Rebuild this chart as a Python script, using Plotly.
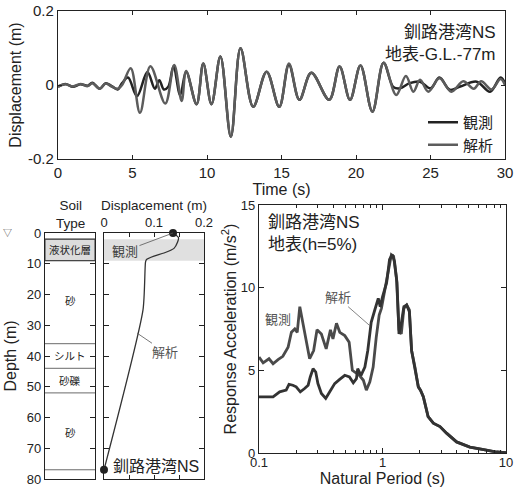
import math
import plotly.graph_objects as go

# ---------------- data ----------------
# time histories (top)
obs_t = [0, 0.5, 1, 1.5, 2, 2.3, 2.8, 3.2, 3.6, 4.0, 4.3, 4.7, 5.3, 6.0, 6.5, 6.8, 7.1, 7.4, 7.75, 8.2, 8.6,
         9.3, 9.75, 10.3, 10.9, 11.6, 12.25, 13.1, 14.0, 14.85, 15.5, 16.2, 17.0, 18.2, 18.9, 19.6, 20.3,
         21.1, 21.85, 22.5, 22.95, 23.6, 24.3, 25.0, 25.6, 26.3, 27.0, 28.1, 29.0, 29.7, 30]
obs_d = [-0.005, 0.003, -0.005, 0.002, -0.002, 0.006, -0.01, 0.005, -0.003, -0.012, 0.005, 0.02, -0.03,
         0.035, -0.01, 0.013, -0.012, -0.005, 0.05, -0.027, 0.036, -0.052, 0.058, -0.052, 0.077, -0.14,
         0.099, -0.059, 0.036, -0.059, 0.055, -0.04, 0.033, -0.04, 0.05, -0.04, 0.053, -0.072, 0.06,
         -0.005, -0.009, 0.005, 0.009, -0.009, 0.02, -0.013, -0.004, 0.009, -0.018, 0.02, 0.005]
sim_t = [0, 0.5, 1, 1.5, 2, 2.3, 2.8, 3.2, 3.6, 4.0, 4.3, 4.88, 5.5, 6.2, 7.2, 7.8, 8.3, 8.6, 9.3, 9.75,
         10.3, 10.9, 11.6, 12.25, 13.1, 14.0, 14.85, 15.5, 16.2, 17.0, 18.2, 18.9, 19.6, 20.3, 21.1, 21.85,
         22.7, 23.35, 23.85, 24.3, 24.85, 25.6, 26.4, 27.2, 27.9, 28.4, 29.1, 29.7, 30]
sim_d = [-0.004, 0.002, -0.004, 0.003, -0.003, 0.005, -0.01, 0.004, -0.004, -0.01, 0.0, 0.045, -0.075,
         0.051, -0.05, 0.054, -0.043, 0.038, -0.052, 0.058, -0.052, 0.077, -0.14, 0.099, -0.059, 0.036,
         -0.059, 0.058, -0.04, 0.033, -0.04, 0.05, -0.04, 0.053, -0.072, 0.06, -0.027, 0.024, -0.018,
         0.014, -0.018, 0.018, -0.018, 0.01, -0.01, 0.01, -0.012, 0.016, 0.0]

# soil column
layer_bounds = [2, 9, 36, 44, 52, 77]
liq_top, liq_bot = 2, 9
layer_names = ["液状化層", "砂", "シルト", "砂礫", "砂"]
layer_label_depth = [5.5, 22, 40, 48, 65]

# displacement profile
prof_disp = [0.138, 0.149, 0.147, 0.14, 0.12, 0.1, 0.085, 0.083, 0.078, 0.0]
prof_depth = [0, 1.5, 3, 5, 6.5, 7.5, 8.6, 9.5, 25, 77]
obs_pt_disp = [0.138, 0.0]
obs_pt_depth = [0, 77]

# response spectra
sp_obs_T = [0.1, 0.108, 0.1205, 0.13, 0.1426, 0.156, 0.172, 0.183, 0.195, 0.204, 0.214, 0.225, 0.239,
            0.257, 0.277, 0.295, 0.32, 0.35, 0.379, 0.397, 0.424, 0.451, 0.495, 0.537, 0.57, 0.6,
            0.65, 0.7, 0.74, 0.79, 0.84, 0.89, 0.94, 0.98, 1.04, 1.11, 1.18, 1.23, 1.3, 1.36, 1.42,
            1.49, 1.57, 1.65, 1.72, 1.83, 1.95, 2.03, 2.14, 2.34, 2.58, 2.92, 3.3, 3.98, 5.1, 6.6, 8.4, 10]
sp_obs_A = [5.8, 5.45, 5.7, 5.4, 5.65, 5.85, 6.4, 7.3, 7.5, 7.3, 8.85, 8.0, 6.8,
            5.7, 6.2, 7.45, 7.2, 6.3, 7.45, 6.9, 7.85, 7.3, 7.1, 6.7, 5.0, 4.9,
            4.7, 4.4, 3.8, 4.3, 5.2, 7.0, 8.35, 8.75, 9.85, 11.1, 12.0, 11.9, 10.5, 7.45, 7.2,
            8.75, 8.95, 8.65, 6.2, 5.2, 4.0, 3.8, 3.4, 2.2, 1.8, 1.6, 1.2, 0.67, 0.36, 0.2, 0.06, 0.02]
sp_sim_T = [0.1, 0.13, 0.147, 0.166, 0.175, 0.188, 0.2, 0.216, 0.234, 0.25, 0.26, 0.274, 0.288, 0.3,
            0.32, 0.347, 0.374, 0.41, 0.45, 0.495, 0.54, 0.58, 0.615, 0.63, 0.67, 0.72, 0.76, 0.81,
            0.866, 0.924, 0.958, 1.0, 1.08, 1.14, 1.2, 1.25, 1.31, 1.36, 1.42, 1.49, 1.57, 1.65, 1.72,
            1.83, 1.95, 2.03, 2.14, 2.34, 2.58, 2.92, 3.3, 3.98, 5.1, 6.6, 8.4, 10]
sp_sim_A = [3.4, 3.4, 3.7, 3.8, 4.15, 4.1, 4.0, 3.7, 3.9, 4.1, 4.6, 5.1, 4.9, 4.2,
            3.6, 3.3, 3.7, 4.2, 4.45, 4.7, 4.6, 4.25, 4.5, 5.1, 4.7, 5.2, 6.2, 7.9,
            8.65, 9.35, 8.85, 9.45, 10.3, 11.7, 12.0, 11.6, 10.3, 7.2, 7.85, 8.85, 8.95, 8.55, 6.2,
            5.2, 4.0, 3.8, 3.4, 2.2, 1.8, 1.6, 1.2, 0.67, 0.36, 0.2, 0.06, 0.02]

OBS_LABEL = "観測"
SIM_LABEL = "解析"

# ---------------- figure ----------------
W, H = 515, 488
FONT = "Arial, 'Liberation Sans', 'Noto Sans CJK JP', sans-serif"
C_OBS = "#222222"
C_SIM = "#5c5c5c"


def px(p):
    return p / W


def py(p):
    return 1 - p / H


def dx(a, b):
    return [px(a), px(b)]


def dy(top, bottom):
    return [py(bottom), py(top)]


fig = go.Figure()

fig.add_trace(go.Scatter(x=obs_t, y=obs_d, mode="lines", name=OBS_LABEL,
                         line=dict(color=C_OBS, width=2.5, shape="spline", smoothing=1.0),
                         xaxis="x", yaxis="y"))
fig.add_trace(go.Scatter(x=sim_t, y=sim_d, mode="lines", name=SIM_LABEL,
                         line=dict(color=C_SIM, width=2.5, shape="spline", smoothing=1.0),
                         xaxis="x", yaxis="y"))

fig.add_trace(go.Scatter(x=prof_disp, y=prof_depth, mode="lines", showlegend=False,
                         line=dict(color="#333333", width=1.3, shape="spline", smoothing=0.6),
                         xaxis="x3", yaxis="y3"))
fig.add_trace(go.Scatter(x=obs_pt_disp, y=obs_pt_depth, mode="markers", showlegend=False,
                         marker=dict(color="#222222", size=8), cliponaxis=False,
                         xaxis="x3", yaxis="y3"))

fig.add_trace(go.Scatter(x=sp_obs_T, y=sp_obs_A, mode="lines", showlegend=False,
                         line=dict(color="#4a4a4a", width=2.8),
                         xaxis="x4", yaxis="y4"))
fig.add_trace(go.Scatter(x=sp_sim_T, y=sp_sim_A, mode="lines", showlegend=False,
                         line=dict(color="#333333", width=2.8),
                         xaxis="x4", yaxis="y4"))

shapes = []
shapes.append(dict(type="rect", xref="x3 domain", yref="y3", x0=0, x1=1, y0=liq_top, y1=liq_bot,
                   fillcolor="#e0e0e0", line=dict(width=0), layer="below"))
shapes.append(dict(type="rect", xref="x2", yref="y2", x0=0, x1=1, y0=liq_top, y1=liq_bot,
                   fillcolor="#dcdcdc", line=dict(color="#333333", width=1), layer="below"))
for b in layer_bounds:
    shapes.append(dict(type="line", xref="x2", yref="y2", x0=0, x1=1, y0=b, y1=b,
                       line=dict(color="#444444", width=0.8)))

ann = []
ann.append(dict(xref="paper", yref="paper", x=px(498), y=py(21), xanchor="right", yanchor="top",
                text="釧路港湾NS<br>地表-G.L.-77m", showarrow=False, align="right",
                font=dict(family=FONT, size=17, color="#222222")))
ann.append(dict(xref="paper", yref="paper", x=px(70), y=py(214.5), xanchor="center", yanchor="middle",
                text="Soil<br>Type", showarrow=False, align="center",
                font=dict(family=FONT, size=13.5, color="#222222")))
ann.append(dict(xref="paper", yref="y2", x=px(7), y=0, xanchor="center", yanchor="middle",
                text="▽", showarrow=False, font=dict(family=FONT, size=9, color="#444444")))
for nm, d in zip(layer_names, layer_label_depth):
    ann.append(dict(xref="x2", yref="y2", x=0.5, y=d, text=nm, showarrow=False,
                    font=dict(family=FONT, size=10.5, color="#222222")))
ann.append(dict(xref="x3", yref="y3", x=obs_pt_disp[0], y=obs_pt_depth[0], ax=-48, ay=18,
                text=OBS_LABEL, showarrow=True, arrowhead=0, arrowwidth=0.8, arrowcolor="#555555",
                font=dict(family=FONT, size=13, color="#444444")))
ann.append(dict(xref="x3", yref="y3", x=0.0665, y=32.6, ax=28, ay=19,
                text=SIM_LABEL, showarrow=True, arrowhead=0, arrowwidth=0.8, arrowcolor="#555555",
                font=dict(family=FONT, size=13, color="#555555")))
ann.append(dict(xref="x3", yref="y3", x=0.103, y=75.8, text="釧路港湾NS", showarrow=False,
                font=dict(family=FONT, size=16, color="#222222")))
ann.append(dict(xref="paper", yref="paper", x=px(266), y=py(211), xanchor="left", yanchor="top",
                text="釧路港湾NS<br>地表(h=5%)", showarrow=False, align="left",
                font=dict(family=FONT, size=17, color="#222222")))
ann.append(dict(xref="x4", yref="y4", x=math.log10(0.1426), y=8.05, text=OBS_LABEL, showarrow=False,
                font=dict(family=FONT, size=13, color="#555555")))
ann.append(dict(xref="x4", yref="y4", x=math.log10(0.79), y=7.7, ax=-32, ay=-28,
                text=SIM_LABEL, showarrow=True, arrowhead=0, arrowwidth=0.8, arrowcolor="#666666",
                font=dict(family=FONT, size=13, color="#555555")))

axis_common = dict(showline=True, linecolor="#222222", linewidth=1.2, mirror="ticks",
                   ticks="inside", tickcolor="#222222", showgrid=False, zeroline=False,
                   automargin=False)

fig.update_layout(
    width=W, height=H, margin=dict(l=0, r=0, t=0, b=0),
    paper_bgcolor="white", plot_bgcolor="white",
    font=dict(family=FONT, size=14, color="#222222"),
    shapes=shapes, annotations=ann,
    legend=dict(x=px(499), xanchor="right", y=py(161), yanchor="bottom",
                bgcolor="rgba(0,0,0,0)", font=dict(family=FONT, size=15, color="#222222"),
                itemwidth=30, tracegroupgap=0),
    xaxis=dict(domain=dx(58, 505), anchor="y", range=[0, 30], tickvals=[0, 5, 10, 15, 20, 25, 30],
               ticklen=4, tickfont=dict(size=15),
               title=dict(text="Time (s)", font=dict(size=16), standoff=2), **axis_common),
    yaxis=dict(domain=dy(11, 159), anchor="x", range=[-0.2, 0.2], tickvals=[-0.2, 0, 0.2],
               ticktext=["-0.2", "0", "0.2"], ticklen=4, tickfont=dict(size=15),
               title=dict(text="Displacement (m)", font=dict(size=16), standoff=2), **axis_common),
    xaxis2=dict(domain=dx(45, 95), anchor="y2", range=[0, 1], showticklabels=False,
                showline=True, linecolor="#222222", linewidth=1.2, mirror=True, ticks="",
                showgrid=False, zeroline=False),
    yaxis2=dict(domain=dy(233, 479), anchor="x2", range=[80, 0], tickvals=list(range(0, 81, 10)),
                ticklen=5, tickfont=dict(size=13),
                title=dict(text="Depth (m)", font=dict(size=16), standoff=6), **axis_common),
    xaxis3=dict(domain=dx(104, 204), anchor="y3", side="top", range=[0, 0.2],
                tickvals=[0, 0.05, 0.1, 0.15, 0.2], ticktext=["0", "", "0.1", "", "0.2"],
                ticklen=4, tickfont=dict(size=13),
                title=dict(text="Displacement (m)", font=dict(size=13.5), standoff=0), **axis_common),
    yaxis3=dict(domain=dy(233, 479), anchor="x3", range=[80, 0], tickvals=list(range(0, 81, 10)),
                ticklen=5, showticklabels=False, **axis_common),
    xaxis4=dict(domain=dx(259, 506), anchor="y4", type="log", range=[-1, 1],
                tickvals=[0.1, 1, 10], ticktext=["0.1", "1", "10"], ticklen=5, tickfont=dict(size=13),
                ticklabelstandoff=-3,
                minor=dict(ticks="inside", ticklen=3, tickcolor="#222222",
                           tickvals=[0.2, 0.3, 0.4, 0.5, 0.6, 0.7, 0.8, 0.9, 2, 3, 4, 5, 6, 7, 8, 9]),
                title=dict(text="Natural Period (s)", font=dict(size=16), standoff=2), **axis_common),
    yaxis4=dict(domain=dy(205, 453), anchor="x4", range=[0, 15], tickvals=[0, 5, 10, 15],
                ticklen=5, tickfont=dict(size=13),
                title=dict(text="Response Acceleration (m/s<sup>2</sup>)", font=dict(size=16), standoff=0),
                **axis_common),
)

fig.write_html("out.html", config={"displayModeBar": False},
               post_script="document.body.style.margin='0px';document.body.style.overflow='hidden';")
